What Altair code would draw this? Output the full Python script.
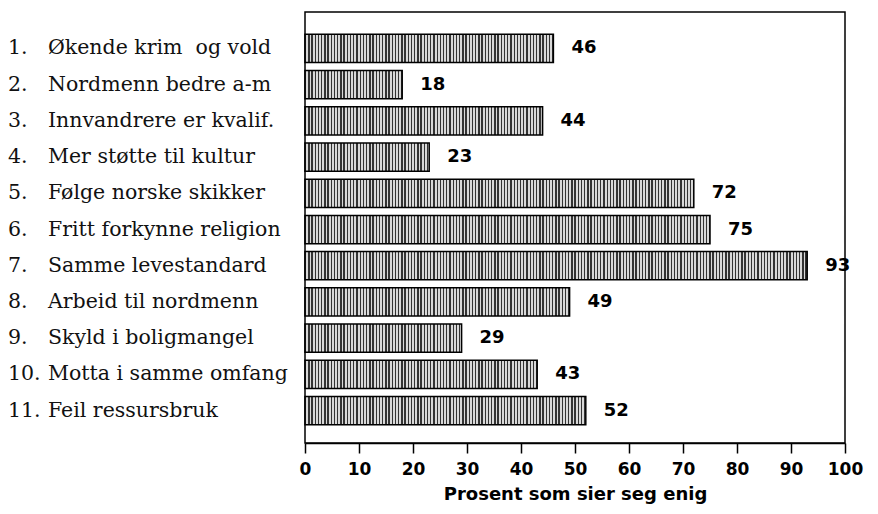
import altair as alt
import pandas as pd

nums = ["1.", "2.", "3.", "4.", "5.", "6.", "7.", "8.", "9.", "10.", "11."]
items = [
    "Økende krim\u00a0 og vold",
    "Nordmenn bedre a-m",
    "Innvandrere er kvalif.",
    "Mer støtte til kultur",
    "Følge norske skikker",
    "Fritt forkynne religion",
    "Samme levestandard",
    "Arbeid til nordmenn",
    "Skyld i boligmangel",
    "Motta i samme omfang",
    "Feil ressursbruk",
]
values = [46, 18, 44, 23, 72, 75, 93, 49, 29, 43, 52]
x_ticks = [0, 10, 20, 30, 40, 50, 60, 70, 80, 90, 100]
x_title = "Prosent som sier seg enig"

df = pd.DataFrame({"num": nums, "item": items, "value": values})

# vertical hatch fill (style only)
n_stripes = 168
stops = []
for i in range(n_stripes):
    a = i / n_stripes
    b = (i + 0.42) / n_stripes
    c = (i + 1) / n_stripes
    stops += [
        {"offset": a, "color": "#333333"},
        {"offset": b, "color": "#333333"},
        {"offset": b, "color": "#d8d8d8"},
        {"offset": c, "color": "#d8d8d8"},
    ]
hatch = {"gradient": "linear", "x1": 0, "x2": 1, "y1": 0, "y2": 0, "stops": stops}

x_axis = alt.Axis(
    values=x_ticks,
    title=x_title,
    grid=False,
    labelFlush=False,
    labelFont="DejaVu Sans",
    labelFontWeight="bold",
    labelFontSize=17,
    labelColor="black",
    labelPadding=8,
    tickColor="black",
    tickSize=10,
    tickWidth=1.5,
    domainColor="black",
    domainWidth=1.5,
    titleFont="DejaVu Sans",
    titleFontWeight="bold",
    titleFontSize=18,
    titleColor="black",
    titlePadding=8,
)
x_scale = alt.Scale(domain=[0, 100], nice=False)

y_enc = alt.Y(
    "item:N",
    sort=items,
    axis=None,
    scale=alt.Scale(paddingInner=0.22, paddingOuter=0.56, align=0.55),
)

base = alt.Chart(df).transform_calculate(lo="0", hi="99.8").encode(y=y_enc)

stripes = base.mark_bar(fill=hatch, strokeWidth=0).encode(
    x=alt.X("lo:Q", scale=x_scale, axis=x_axis, title=x_title),
    x2="hi:Q",
)
cover = base.mark_bar(fill="white", strokeWidth=0, height=31).encode(
    x=alt.X("value:Q", scale=x_scale, axis=x_axis, title=x_title),
    x2="hi:Q",
)
outline = base.mark_bar(fillOpacity=0, stroke="black", strokeWidth=1.5).encode(
    x=alt.X("lo:Q", scale=x_scale, axis=x_axis, title=x_title),
    x2="value:Q",
)
vals = base.mark_text(
    align="left", baseline="middle", dx=18, font="DejaVu Sans",
    fontWeight="bold", fontSize=18, color="black",
).encode(
    x=alt.X("value:Q", scale=x_scale, axis=x_axis, title=x_title),
    text="value:Q",
)
num_text = base.mark_text(
    align="left", baseline="middle", font="DejaVu Serif", fontSize=20.5, color="#111111",
).encode(x=alt.value(-297), text="num:N")
item_text = base.mark_text(
    align="left", baseline="middle", font="DejaVu Serif", fontSize=20.5, color="#111111",
).encode(x=alt.value(-257), text="item:N")

chart = (
    alt.layer(stripes, cover, outline, vals, num_text, item_text)
    .properties(
        width=540,
        height=431,
        autosize=alt.AutoSizeParams(type="none"),
        padding={"left": 297, "top": 4, "right": 25, "bottom": 63},
        background="white",
    )
    .configure_view(stroke="black", strokeWidth=1.5)
)

chart.save("out.html", embed_options={"renderer": "svg", "actions": False})
